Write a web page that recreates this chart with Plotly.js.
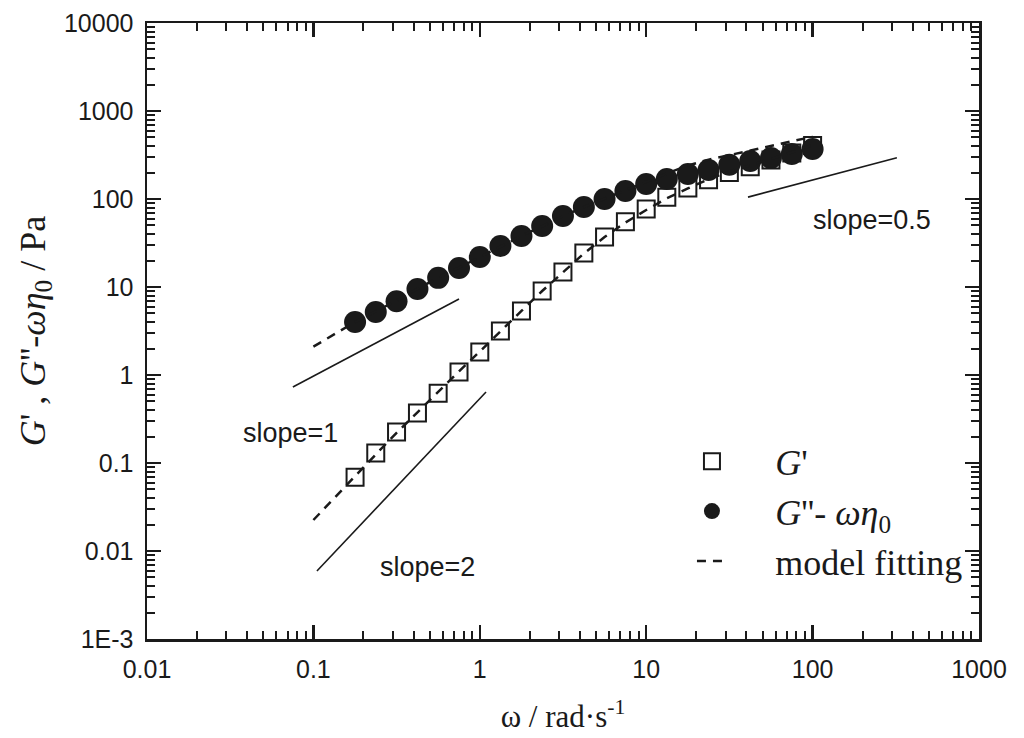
<!DOCTYPE html>
<html>
<head>
<meta charset="utf-8">
<script src="https://cdn.plot.ly/plotly-3.0.1.min.js"></script>
<style>html,body{margin:0;padding:0;background:#fff;}</style>
</head>
<body>
<div id="chart" style="width:1024px;height:738px;"></div>
<script>
// angular frequency (rad/s) of measured points
const omega = [0.178, 0.237, 0.316, 0.422, 0.562, 0.75, 1.0, 1.33, 1.78, 2.37, 3.16, 4.22, 5.62, 7.5, 10, 13.3, 17.8, 23.7, 31.6, 42.2, 56.2, 75, 100];
// G' (Pa)
const gPrime = [0.069, 0.130, 0.225, 0.37, 0.62, 1.08, 1.82, 3.16, 5.33, 9.0, 14.8, 24.3, 37, 55, 77, 105, 133, 165, 200, 232, 277, 333, 405];
// G'' - omega*eta0 (Pa)
const gDouble = [4.0, 5.2, 6.9, 9.5, 12.7, 16.4, 21.9, 29.2, 38.0, 49.3, 64.1, 81, 100, 123, 148, 169, 192, 214, 245, 270, 292, 325, 370];

// model fitting curves
const omegaFit = [0.1, 0.133, 0.178, 0.237, 0.316, 0.422, 0.562, 0.75, 1.0, 1.33, 1.78, 2.37, 3.16, 4.22, 5.62, 7.5, 10, 13.3, 17.8, 23.7, 31.6, 42.2, 56.2, 75, 100];
const gPrimeFit = [0.0225, 0.040, 0.070, 0.125, 0.22, 0.38, 0.64, 1.1, 1.85, 3.15, 5.35, 9.0, 14.8, 24, 37, 54, 75, 102, 132, 168, 205, 240, 285, 340, 410];
const gDoubleFit = [2.1, 2.9, 4.0, 5.3, 7.0, 9.5, 12.8, 16.6, 22, 29, 38, 49, 64, 81, 101, 126, 157, 195, 240, 280, 315, 355, 400, 450, 510];

// reference slope lines
const slope1X = [0.0753, 0.75], slope1Y = [0.73, 7.3];
const slope2X = [0.105, 1.09], slope2Y = [0.00593, 0.64];
const slope05X = [40.9, 321], slope05Y = [105, 295];

// tick labels
const yTickVals = [0.001, 0.01, 0.1, 1, 10, 100, 1000, 10000];
const yTickText = ['1E-3', '0.01', '0.1', '1', '10', '100', '1000', '10000'];
const xTickVals = [0.01, 0.1, 1, 10, 100, 1000];
const xTickText = ['0.01', '0.1', '1', '10', '100', '1000'];

function minorVals(lo, hi) {
  const v = [];
  for (let e = lo; e < hi; e++) for (let d = 2; d <= 9; d++) v.push(d * Math.pow(10, e));
  return v;
}

const blk = '#1a1a1a';
const pad = '\u2002\u2002\u2009';
const traces = [
  {x: omega, y: gPrime, mode: 'markers', name: pad + "<i>G</i>'", legendgroup: 'data',
   marker: {symbol: 'square-open', size: 17, color: blk, line: {width: 2, color: blk}}},
  {x: omega, y: gDouble, mode: 'markers', name: pad + "<i>G</i>''- <i>ωη</i><sub>0</sub>", legendgroup: 'data',
   marker: {symbol: 'circle', size: 22, color: blk}},
  {x: omegaFit, y: gPrimeFit, mode: 'lines', name: pad + 'model fitting', legendgroup: 'fit',
   line: {color: blk, width: 2.5, dash: '9px,7px'}},
  {x: omegaFit, y: gDoubleFit, mode: 'lines', showlegend: false, legendgroup: 'fit',
   line: {color: blk, width: 2.5, dash: '9px,7px'}},
  {x: slope1X, y: slope1Y, mode: 'lines', showlegend: false, line: {color: blk, width: 1.6}},
  {x: slope2X, y: slope2Y, mode: 'lines', showlegend: false, line: {color: blk, width: 1.6}},
  {x: slope05X, y: slope05Y, mode: 'lines', showlegend: false, line: {color: blk, width: 1.6}}
];

const axisCommon = {
  type: 'log', showgrid: false, zeroline: false,
  showline: true, linecolor: blk, linewidth: 2.5, mirror: 'ticks',
  ticks: 'inside', ticklen: 14, tickwidth: 2.5, tickcolor: blk,
  tickmode: 'array', ticklabelstandoff: 6,
  tickfont: {family: 'Liberation Sans, Arial, sans-serif', size: 25, color: blk}
};

const txtFont = {family: 'Liberation Sans, Arial, sans-serif', size: 27, color: blk};

const layout = {
  width: 1024, height: 738,
  margin: {l: 147, r: 45, t: 23, b: 99},
  paper_bgcolor: '#fff', plot_bgcolor: '#fff',
  showlegend: true,
  legend: {x: 0.655, y: 0.337, xanchor: 'left', yanchor: 'top', bgcolor: 'rgba(0,0,0,0)',
           font: {family: 'Liberation Serif, Times New Roman, serif', size: 36, color: blk},
           traceorder: 'grouped', tracegroupgap: 0},
  xaxis: Object.assign({}, axisCommon, {
    range: [-2, 3], tickvals: xTickVals, ticktext: xTickText,
    minor: {tickmode: 'array', tickvals: minorVals(-2, 3), ticks: 'inside', ticklen: 8, tickwidth: 2, tickcolor: blk},
    title: {text: 'ω / rad·s<sup>-1</sup>', standoff: 24,
            font: {family: 'Liberation Serif, Times New Roman, serif', size: 31, color: blk}}
  }),
  yaxis: Object.assign({}, axisCommon, {
    range: [-3, 4], tickvals: yTickVals, ticktext: yTickText,
    minor: {tickmode: 'array', tickvals: minorVals(-3, 4), ticks: 'inside', ticklen: 8, tickwidth: 2, tickcolor: blk},
    title: {text: "<i>G</i>' , <i>G</i>''-<i>ωη</i><sub>0</sub> / Pa", standoff: 8,
            font: {family: 'Liberation Serif, Times New Roman, serif', size: 36, color: blk}}
  }),
  annotations: [
    {xref: 'paper', yref: 'paper', x: 0.172, y: 0.334, xanchor: 'center', yanchor: 'middle',
     text: 'slope=1', showarrow: false, font: txtFont},
    {xref: 'paper', yref: 'paper', x: 0.337, y: 0.117, xanchor: 'center', yanchor: 'middle',
     text: 'slope=2', showarrow: false, font: txtFont},
    {xref: 'paper', yref: 'paper', x: 0.871, y: 0.680, xanchor: 'center', yanchor: 'middle',
     text: 'slope=0.5', showarrow: false, font: txtFont}
  ]
};

Plotly.newPlot('chart', traces, layout, {displayModeBar: false, staticPlot: true});
</script>
</body>
</html>
